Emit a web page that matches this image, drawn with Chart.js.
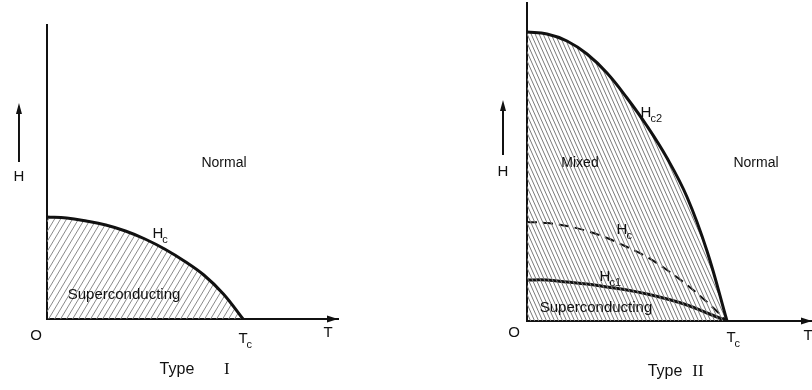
<!DOCTYPE html>
<html>
<head>
<meta charset="utf-8">
<script src="https://cdn.jsdelivr.net/npm/chart.js@4.4.1/dist/chart.umd.min.js"></script>
<style>
  html, body { margin: 0; padding: 0; background: #fff; }
  #wrap { position: relative; width: 812px; height: 390px; }
  #wrap canvas { position: absolute; left: 0; top: 0; }
</style>
</head>
<body>
<div id="wrap">
  <canvas id="typeOne" width="812" height="390"></canvas>
  <canvas id="typeTwo" width="812" height="390"></canvas>
</div>
<script>
// T / Tc
const temps = [0, 0.1, 0.2, 0.3, 0.4, 0.5, 0.6, 0.7, 0.8, 0.9, 1.0];

// Type I critical field
const hcOne = [1.02, 1.01, 0.98, 0.94, 0.88, 0.80, 0.70, 0.58, 0.44, 0.25, 0];

// Type II fields
const hc2 = [2.89, 2.87, 2.80, 2.67, 2.48, 2.23, 1.95, 1.63, 1.24, 0.70, 0];
const hcTwo = [0.99, 0.98, 0.95, 0.90, 0.83, 0.74, 0.64, 0.51, 0.36, 0.19, 0];
const hc1 = [0.41, 0.41, 0.39, 0.37, 0.34, 0.31, 0.27, 0.22, 0.16, 0.08, 0];

const pts = vals => temps.map((t, i) => ({ x: t, y: vals[i] }));

function hatch(dir, w, h, color) {
  const c = document.createElement('canvas');
  c.width = w; c.height = h;
  const g = c.getContext('2d');
  g.strokeStyle = color;
  g.lineWidth = 1;
  g.beginPath();
  if (dir === '/') {
    g.moveTo(0, h); g.lineTo(w, 0);
    g.moveTo(-w, h); g.lineTo(0, 0);
    g.moveTo(w, h); g.lineTo(2 * w, 0);
  } else {
    g.moveTo(0, 0); g.lineTo(w, h);
    g.moveTo(-w, 0); g.lineTo(0, h);
    g.moveTo(w, 0); g.lineTo(2 * w, h);
  }
  g.stroke();
  return g.createPattern(c, 'repeat');
}

const ink = '#111';
const font = '"Liberation Sans", Arial, sans-serif';

const labelPlugin = {
  id: 'phaseLabels',
  afterDraw(chart, args, opts) {
    const { ctx, chartArea } = chart;
    const xs = chart.scales.x, ys = chart.scales.y;
    ctx.save();
    ctx.fillStyle = ink;
    ctx.strokeStyle = ink;

    // arrow on T axis
    const ax = chartArea.right, ay = chartArea.bottom;
    ctx.beginPath();
    ctx.moveTo(ax, ay);
    ctx.lineTo(ax - 11, ay - 3.5);
    ctx.lineTo(ax - 11, ay + 3.5);
    ctx.closePath();
    ctx.fill();

    // H arrow
    const hx = xs.getPixelForValue(opts.hArrow.x);
    const hy0 = ys.getPixelForValue(opts.hArrow.from);
    const hy1 = ys.getPixelForValue(opts.hArrow.to);
    ctx.lineWidth = 2;
    ctx.beginPath();
    ctx.moveTo(hx, hy0);
    ctx.lineTo(hx, hy1 + 8);
    ctx.stroke();
    ctx.beginPath();
    ctx.moveTo(hx, hy1);
    ctx.lineTo(hx - 3, hy1 + 11);
    ctx.lineTo(hx + 3, hy1 + 11);
    ctx.closePath();
    ctx.fill();

    ctx.textBaseline = 'middle';
    opts.items.forEach(it => {
      const px = xs.getPixelForValue(it.x);
      const py = ys.getPixelForValue(it.y);
      const size = it.size || 15;
      ctx.font = `${size}px ${it.serif ? '"Liberation Serif", serif' : font}`;
      ctx.textAlign = 'center';
      ctx.fillText(it.text, px, py);
      if (it.sub) {
        const w = ctx.measureText(it.text).width;
        ctx.font = `${Math.round(size * 0.72)}px ${font}`;
        ctx.textAlign = 'left';
        ctx.fillText(it.sub, px + w / 2 - 1, py + size * 0.38);
      }
    });
    ctx.restore();
  }
};

function axes(xMax, yMax) {
  const common = {
    type: 'linear',
    grid: { display: false, drawTicks: false },
    ticks: { display: false },
    border: { display: true, color: ink, width: 2 }
  };
  return {
    x: Object.assign({}, common, { min: 0, max: xMax }),
    y: Object.assign({}, common, { min: 0, max: yMax })
  };
}

const curve = {
  pointRadius: 0,
  borderColor: ink,
  borderWidth: 3,
  tension: 0.4
};

new Chart(document.getElementById('typeOne'), {
  type: 'line',
  data: {
    datasets: [Object.assign({}, curve, {
      label: 'Hc',
      data: pts(hcOne),
      fill: 'origin',
      backgroundColor: hatch('/', 6, 10, '#8a8a8a')
    })]
  },
  options: {
    responsive: false,
    animation: false,
    layout: { padding: { left: 47, top: 25, right: 812 - 338, bottom: 390 - 319 } },
    scales: axes(291 / 196, 2.94),
    plugins: {
      legend: { display: false },
      tooltip: { enabled: false },
      phaseLabels: {
        hArrow: { x: -0.143, from: 1.57, to: 2.16 },
        items: [
          { text: 'Normal', x: 0.903, y: 1.56, size: 14 },
          { text: 'H', sub: 'c', x: 0.566, y: 0.85 },
          { text: 'Superconducting', x: 0.393, y: 0.24, size: 15 },
          { text: 'H', x: -0.143, y: 1.42 },
          { text: 'O', x: -0.056, y: -0.17 },
          { text: 'T', sub: 'c', x: 1.0, y: -0.2 },
          { text: 'T', x: 1.434, y: -0.14 },
          { text: 'Type', x: 0.663, y: -0.51, size: 16 },
          { text: 'I', x: 0.918, y: -0.51, size: 17, serif: true }
        ]
      }
    }
  },
  plugins: [labelPlugin]
});

new Chart(document.getElementById('typeTwo'), {
  type: 'line',
  data: {
    datasets: [
      Object.assign({}, curve, {
        label: 'Hc2',
        data: pts(hc2),
        fill: 'origin',
        backgroundColor: hatch('\\', 4, 9, '#7a7a7a')
      }),
      Object.assign({}, curve, {
        label: 'Hc',
        data: pts(hcTwo),
        fill: false,
        borderWidth: 2,
        borderDash: [10, 6]
      }),
      Object.assign({}, curve, {
        label: 'Hc1',
        data: pts(hc1),
        fill: false
      })
    ]
  },
  options: {
    responsive: false,
    animation: false,
    layout: { padding: { left: 527, top: 3, right: 0, bottom: 390 - 321 } },
    scales: axes(285 / 200, 3.18),
    plugins: {
      legend: { display: false },
      tooltip: { enabled: false },
      phaseLabels: {
        hArrow: { x: -0.12, from: 1.66, to: 2.21 },
        items: [
          { text: 'Normal', x: 1.145, y: 1.58, size: 14 },
          { text: 'Mixed', x: 0.265, y: 1.58, size: 14 },
          { text: 'H', sub: 'c2', x: 0.595, y: 2.08 },
          { text: 'H', sub: 'c', x: 0.475, y: 0.91 },
          { text: 'H', sub: 'c1', x: 0.39, y: 0.44 },
          { text: 'Superconducting', x: 0.345, y: 0.13, size: 15 },
          { text: 'H', x: -0.12, y: 1.49 },
          { text: 'O', x: -0.065, y: -0.12 },
          { text: 'T', sub: 'c', x: 1.02, y: -0.17 },
          { text: 'T', x: 1.405, y: -0.15 },
          { text: 'Type', x: 0.69, y: -0.51, size: 16 },
          { text: 'II', x: 0.855, y: -0.51, size: 17, serif: true }
        ]
      }
    }
  },
  plugins: [labelPlugin]
});
</script>
</body>
</html>
